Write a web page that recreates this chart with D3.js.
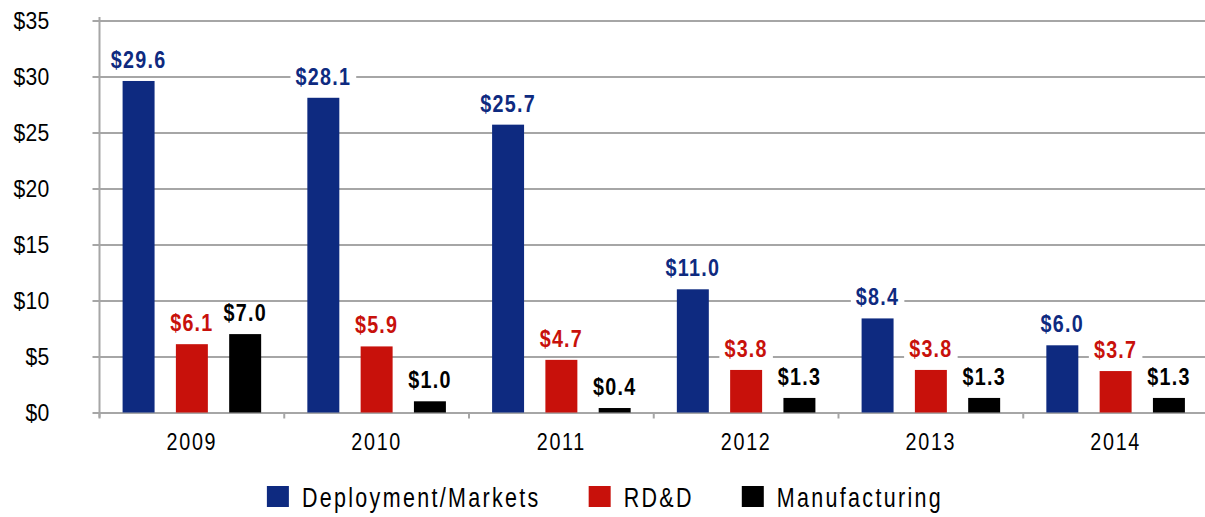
<!DOCTYPE html>
<html>
<head>
<meta charset="utf-8">
<script src="https://cdn.jsdelivr.net/npm/d3@7"></script>
<style>
  body { margin: 0; background: #fff; }
  svg { display: block; font-family: "Liberation Sans", Arial, sans-serif; }
</style>
</head>
<body>
<script>
const width = 1205;
const height = 517;

const margin = {
    left: 99.5,
    right: -3,
    top: 20.5,
    bottom: 104.5
};

// data, billions of dollars
const years = ["2009", "2010", "2011", "2012", "2013", "2014"];
const seriesNames = ["Deployment/Markets", "RD&D", "Manufacturing"];
const deployment = [29.6, 28.1, 25.7, 11.0, 8.4, 6.0];
const rdd = [6.1, 5.9, 4.7, 3.8, 3.8, 3.7];
const manufacturing = [7.0, 1.0, 0.4, 1.3, 1.3, 1.3];
const yTicks = [0, 5, 10, 15, 20, 25, 30, 35];

const colors = ["#0e2a80", "#c8110b", "#000000"];
const gridColor = "#a6a6a6";

// narrow look: text squeezed horizontally
const squeeze = 0.84;

const seriesValues = [deployment, rdd, manufacturing];

let data = years.map((yr, i) => ({
    year: yr,
    values: seriesNames.map((s, j) => ({ series: s, idx: j, value: seriesValues[j][i] }))
}));

let svg = d3.select("body").append("svg")
    .attr("width", width)
    .attr("height", height);

let x0 = d3.scaleBand()
    .domain(years)
    .range([margin.left, width - margin.right])
    .paddingInner(0.25)
    .paddingOuter(0.125);

let x1 = d3.scaleBand()
    .domain(seriesNames)
    .range([0, x0.bandwidth()])
    .paddingInner(0.4);

let yScale = d3.scaleLinear()
    .domain([0, 35])
    .range([height - margin.bottom, margin.top]);

// gridlines with y-axis labels
let yAxis = svg.append("g")
    .attr("class", "axis axis--y")
    .attr("transform", "translate(" + margin.left + ",0)")
    .call(d3.axisLeft(yScale)
        .tickValues(yTicks)
        .tickSize(7)
        .tickPadding(0)
        .tickFormat(d => "$" + d));

yAxis.select(".domain").remove();
yAxis.selectAll(".tick line")
    .attr("x2", width - margin.left)
    .attr("x1", -7)
    .attr("stroke", gridColor)
    .attr("stroke-width", 2);
yAxis.selectAll(".tick text")
    .attr("x", 0)
    .attr("dy", "0.35em")
    .attr("transform", "translate(-50,0) scale(0.92,1)")
    .attr("fill", "#000")
    .style("font-size", "23px")
    .style("letter-spacing", "0.3px");

// vertical axis line
svg.append("line")
    .attr("x1", margin.left).attr("x2", margin.left)
    .attr("y1", yScale(35) - 3.5).attr("y2", yScale(0) + 5)
    .attr("stroke", gridColor)
    .attr("stroke-width", 2);

// x axis: tick marks between groups, labels at centers
let boundaries = years.map(d => x0(d) - x0.step() * x0.paddingOuter())
    .concat([x0(years[years.length - 1]) + x0.bandwidth() + x0.step() * x0.paddingOuter()]);

svg.append("g")
    .selectAll("line")
    .data(boundaries)
    .join("line")
    .attr("x1", d => d).attr("x2", d => d)
    .attr("y1", yScale(0)).attr("y2", yScale(0) + 6)
    .attr("stroke", gridColor)
    .attr("stroke-width", 2);

svg.append("g")
    .selectAll("text")
    .data(years)
    .join("text")
    .attr("transform", d => `translate(${x0(d) + x0.bandwidth() / 2},${yScale(0) + 37.5}) scale(${squeeze},1)`)
    .attr("text-anchor", "middle")
    .style("font-size", "23.5px")
    .style("letter-spacing", "2px")
    .text(d => d);

// bars
let groups = svg.selectAll(".group")
    .data(data)
    .join("g")
    .attr("class", "group")
    .attr("transform", d => "translate(" + x0(d.year) + ",0)");

groups.selectAll("rect")
    .data(d => d.values)
    .join("rect")
    .attr("x", d => x1(d.series))
    .attr("y", d => yScale(d.value))
    .attr("width", x1.bandwidth())
    .attr("height", d => yScale(0) - yScale(d.value))
    .attr("fill", d => colors[d.idx]);

// value labels with white backing
let labels = groups.selectAll(".lbl")
    .data(d => d.values)
    .join("g")
    .attr("class", "lbl")
    .attr("transform", d => `translate(${x1(d.series) + x1.bandwidth() / 2},${yScale(d.value) - 13}) scale(${squeeze},1)`);

labels.append("rect").attr("fill", "#fff");

labels.append("text")
    .attr("text-anchor", "middle")
    .attr("fill", d => colors[d.idx])
    .style("font-size", "23.5px")
    .style("font-weight", "bold")
    .style("letter-spacing", "1.5px")
    .text(d => "$" + d.value.toFixed(1));

labels.each(function() {
    let g = d3.select(this);
    let b = g.select("text").node().getBBox();
    g.select("rect")
        .attr("x", b.x - 6)
        .attr("y", b.y + 3)
        .attr("width", b.width + 12)
        .attr("height", b.height - 5);
});

// legend
let legend = svg.append("g").attr("class", "legend");
let items = legend.selectAll("g")
    .data(seriesNames)
    .join("g");

items.append("rect")
    .attr("width", 22)
    .attr("height", 21)
    .attr("y", 486)
    .attr("fill", (d, i) => colors[i]);

items.append("text")
    .attr("transform", `translate(35,506.5) scale(0.78,1)`)
    .style("font-size", "27.5px")
    .style("letter-spacing", "3px")
    .attr("fill", "#000")
    .text(d => d);

let offset = 0;
let positions = [];
items.each(function() {
    let w = d3.select(this).select("text").node().getComputedTextLength() * 0.78;
    positions.push(offset);
    offset += 35 + w + 48;
});
let total = offset - 48;
let startX = 605 - total / 2;
items.attr("transform", (d, i) => "translate(" + (startX + positions[i]) + ",0)");
</script>
</body>
</html>
